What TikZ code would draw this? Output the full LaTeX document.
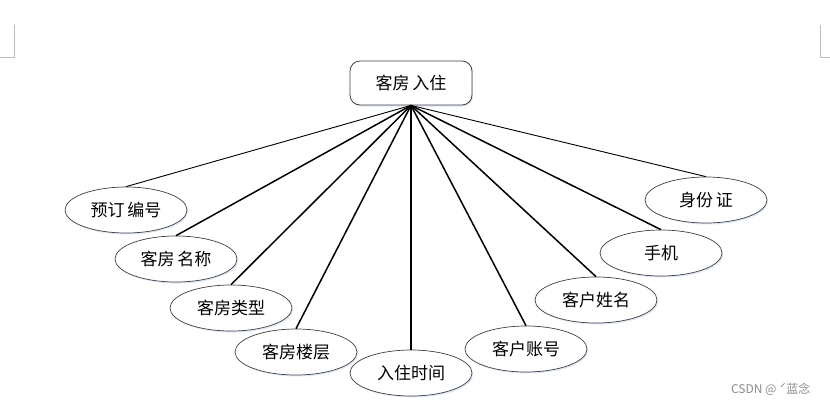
\documentclass[tikz,border=0pt]{standalone}
\usepackage{fontspec}
\usepackage{tikz}
\usetikzlibrary{shapes.geometric,shadows}
\newfontfamily\cjk{Noto Sans CJK SC}
\definecolor{glow}{RGB}{214,228,245}
\definecolor{markgray}{RGB}{190,190,190}

\begin{document}
\begin{tikzpicture}[
  x=1pt, y=-1pt,
  font=\cjk\fontsize{17}{20}\selectfont,
  entity/.style={rounded corners=10pt, draw=black!75, line width=0.8pt,
                 fill=white, minimum width=122pt, minimum height=44pt,
                 inner sep=0pt,
                 drop shadow={shadow xshift=1.2pt, shadow yshift=-1.5pt,
                              fill=glow, opacity=0.8}},
  attr/.style  ={ellipse, draw=black!75, line width=0.7pt, fill=white,
                 minimum width=122pt, minimum height=46pt, inner sep=0pt,
                 drop shadow={shadow xshift=1.2pt, shadow yshift=-1.5pt,
                              fill=glow, opacity=0.8}},
  link/.style  ={line width=1.5pt, draw=black},
  thinlink/.style={line width=0.9pt, draw=black},
  cornermark/.style={line width=0.6pt, draw=markgray},
]
\useasboundingbox (0,0) rectangle (830,405);

% page corner marks
\draw[cornermark] (0,57) -- (14,57) -- (14,25);
\draw[cornermark] (830,57) -- (820,57) -- (820,25);

\node[entity] (ruzhu) at (411,83) {客房\,入住};

\node[attr] (yuding)   at (126,210) {预订\,编号};
\node[attr] (fangming) at (176,259) {客房\,名称};
\node[attr] (leixing)  at (231,308) {客房类型};
\node[attr] (louceng)  at (296,352) {客房楼层};
\node[attr] (shijian)  at (411,373) {入住时间};
\node[attr] (zhanghao) at (526,349) {客户账号};
\node[attr] (xingming) at (596,300) {客户姓名};
\node[attr] (shouji)   at (661,253) {手机};
\node[attr] (shenfen)  at (706,200) {身份\,证};

\draw[thinlink] (ruzhu.south) -- (yuding.north);
\draw[link] (ruzhu.south) -- (fangming.north);
\draw[link] (ruzhu.south) -- (leixing.north);
\draw[link] (ruzhu.south) -- (louceng.north);
\draw[link] (ruzhu.south) -- (shijian.north);
\draw[link] (ruzhu.south) -- (zhanghao.north);
\draw[link] (ruzhu.south) -- (xingming.north);
\draw[link] (ruzhu.south) -- (shouji.north);
\draw[thinlink] (ruzhu.south) -- (shenfen.north);

\node[text=black!45, font=\cjk\fontsize{12}{14}\selectfont, anchor=east]
  (wmark) at (814,389) {CSDN @ ˊ蓝念};

\end{tikzpicture}
\end{document}
